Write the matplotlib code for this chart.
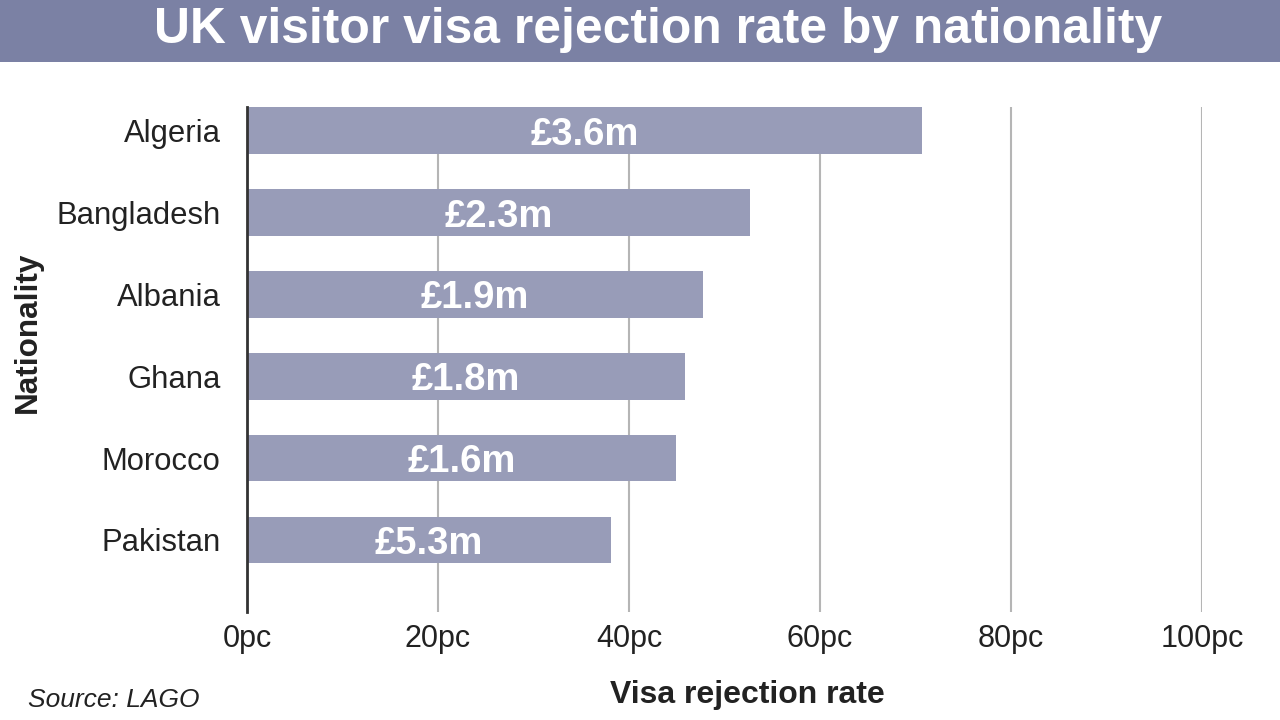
import matplotlib.pyplot as plt
from matplotlib.patches import Rectangle

nationalities = ['Algeria', 'Bangladesh', 'Albania', 'Ghana', 'Morocco', 'Pakistan']
rejection_rate = [70.7, 52.7, 47.7, 45.9, 44.9, 38.1]
bar_labels = ['£3.6m', '£2.3m', '£1.9m', '£1.8m', '£1.6m', '£5.3m']
xticks = [0, 20, 40, 60, 80, 100]

plt.rcParams['font.family'] = ['Liberation Sans', 'DejaVu Sans']

fig = plt.figure(figsize=(12.8, 7.2), dpi=100)

# title band across the top
fig.patches.append(Rectangle((0, 1 - 62 / 720), 1, 62 / 720, transform=fig.transFigure,
                             facecolor='#7b81a4', edgecolor='none', zorder=0))
fig.text(658 / 1280, 1 - 30 / 720, 'UK visitor visa rejection rate by nationality',
         ha='center', va='center', color='white', fontsize=35.8, fontweight='bold')

ax = fig.add_axes([247 / 1280, 108 / 720, (1202 - 247) / 1280, (612 - 107) / 720])

y = range(len(nationalities))
bars = ax.barh(y, rejection_rate, height=0.57, color='#989cb8', zorder=2)
for b, lab in zip(bars, bar_labels):
    ax.text(b.get_width() / 2, b.get_y() + b.get_height() / 2, lab,
            ha='center', va='center_baseline', color='white', fontsize=27.5,
            fontweight='bold', zorder=3)

ax.set_xlim(0, 100)
ax.set_ylim(5.88, -0.29)
ax.set_yticks(list(y))
ax.set_yticklabels(nationalities)
ax.set_xticks(xticks)
ax.set_xticklabels([f'{t}pc' for t in xticks])
ax.tick_params(axis='y', length=0, pad=19, labelsize=22.3, labelcolor='#222222')
ax.tick_params(axis='x', length=0, pad=9, labelsize=22, labelcolor='#222222')
for t in ax.get_yticklabels():
    t.set_va('center_baseline')

ax.grid(axis='x', color='#b5b5b5', linewidth=1.5, zorder=1)
for s in ['top', 'right', 'bottom']:
    ax.spines[s].set_visible(False)
ax.spines['left'].set_color('#333333')
ax.spines['left'].set_linewidth(2)
ax.spines['left'].set_zorder(4)

fig.text(28 / 1280, 1 - 332 / 720, 'Nationality', rotation=90, ha='center', va='center',
         fontsize=22.7, fontweight='bold', color='#222222')
fig.text(747 / 1280, 1 - 695 / 720, 'Visa rejection rate', ha='center', va='center',
         fontsize=23, fontweight='bold', color='#222222')
fig.text(28 / 1280, 1 - 700 / 720, 'Source: LAGO', ha='left', va='center',
         fontsize=19, fontstyle='italic', color='#222222')

fig.savefig('out.png', dpi=100)
